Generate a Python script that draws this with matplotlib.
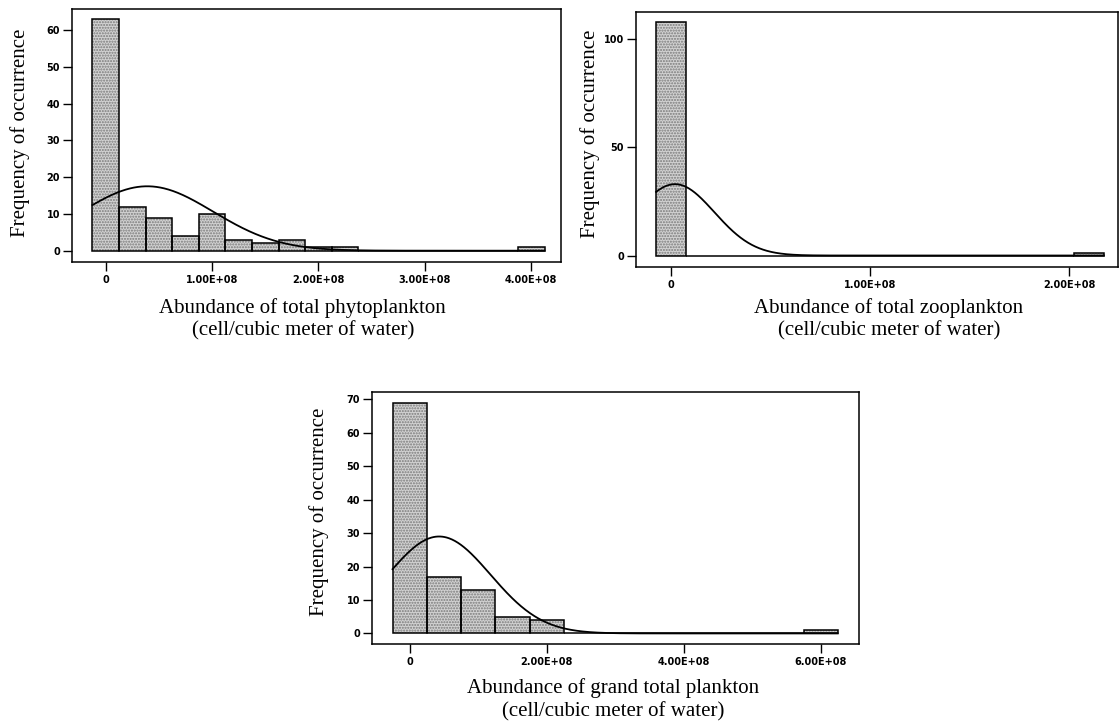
import numpy as np
import matplotlib
matplotlib.use("Agg")
import matplotlib.pyplot as plt

# bin centres are in units of 1e6 cells / m^3
phyto_centers = [0, 25, 50, 75, 100, 125, 150, 175, 200, 225, 250, 275, 300, 325, 350, 375, 400]
phyto_counts = [63, 12, 9, 4, 10, 3, 2, 3, 1, 1, 0, 0, 0, 0, 0, 0, 1]
phyto_width = 25
phyto_mean, phyto_sd = 39, 62

zoo_centers = [0, 15, 30, 45, 60, 75, 90, 105, 120, 135, 150, 165, 180, 195, 210]
zoo_counts = [108, 0, 0, 0, 0, 0, 0, 0, 0, 0, 0, 0, 0, 0, 1]
zoo_width = 15
zoo_mean, zoo_sd = 2, 19.8

total_centers = [0, 50, 100, 150, 200, 250, 300, 350, 400, 450, 500, 550, 600]
total_counts = [69, 17, 13, 5, 4, 0, 0, 0, 0, 0, 0, 0, 1]
total_width = 50
total_mean, total_sd = 43, 75

phyto_xticks = [0, 100, 200, 300, 400]
phyto_xlabels = ["0", "1.00E+08", "2.00E+08", "3.00E+08", "4.00E+08"]
zoo_xticks = [0, 100, 200]
zoo_xlabels = ["0", "1.00E+08", "2.00E+08"]
total_xticks = [0, 200, 400, 600]
total_xlabels = ["0", "2.00E+08", "4.00E+08", "6.00E+08"]

W, H = 1120, 725
SERIF = "Liberation Serif"


def draw_hist(rect, centers, counts, width, mean, sd, xlim, ylim, xticks, xlabels, yticks):
    ax = fig.add_axes(rect)
    # stippled fill first, then black outlines on top
    ax.bar(centers, counts, width=width, color="#d2d2d2", hatch="......",
           edgecolor="#7a7a7a", linewidth=0, zorder=2)
    ax.bar(centers, counts, width=width, fill=False, edgecolor="black",
           linewidth=1.1, zorder=3)

    n = sum(counts)
    x = np.linspace(centers[0] - width / 2, centers[-1] + width / 2, 600)
    y = n * width * np.exp(-0.5 * ((x - mean) / sd) ** 2) / (sd * np.sqrt(2 * np.pi))
    ax.plot(x, y, color="black", linewidth=1.3, zorder=4)

    ax.set_xlim(*xlim)
    ax.set_ylim(*ylim)
    ax.set_xticks(xticks)
    ax.set_xticklabels(xlabels)
    ax.set_yticks(yticks)
    ax.tick_params(direction="out", length=6.5, width=1.0, labelsize=7, pad=2)
    ax.tick_params(axis="x", pad=3)
    for t in ax.get_xticklabels() + ax.get_yticklabels():
        t.set_fontweight("bold")
    for s in ax.spines.values():
        s.set_linewidth(1.1)
    return ax


def px_rect(left, top, right, bottom):
    return [left / W, 1 - bottom / H, (right - left) / W, (bottom - top) / H]


fig = plt.figure(figsize=(W / 100, H / 100), dpi=100)
plt.rcParams["font.family"] = "DejaVu Sans"

draw_hist(px_rect(72, 9, 561, 262), phyto_centers, phyto_counts, phyto_width,
          phyto_mean, phyto_sd, (-31.7, 428), (-3.08, 65.8),
          phyto_xticks, phyto_xlabels, [0, 10, 20, 30, 40, 50, 60])
draw_hist(px_rect(636, 12, 1118, 267), zoo_centers, zoo_counts, zoo_width,
          zoo_mean, zoo_sd, (-17.6, 224.6), (-5.3, 112.4),
          zoo_xticks, zoo_xlabels, [0, 50, 100])
draw_hist(px_rect(372, 392, 859, 644), total_centers, total_counts, total_width,
          total_mean, total_sd, (-55, 656), (-3.16, 72.2),
          total_xticks, total_xlabels, [0, 10, 20, 30, 40, 50, 60, 70])


def label(x, y, text, rot=0):
    fig.text(x / W, 1 - y / H, text, family=SERIF, fontsize=15,
             ha="center", va="center", rotation=rot)


label(302, 308, "Abundance of total phytoplankton")
label(303, 331, "(cell/cubic meter of water)")
label(889, 308, "Abundance of total zooplankton")
label(889, 331, "(cell/cubic meter of water)")
label(613, 688, "Abundance of grand total plankton")
label(613, 712, "(cell/cubic meter of water)")

label(20, 133, "Frequency of occurrence", rot=90)
label(590, 134, "Frequency of occurrence", rot=90)
label(319, 512, "Frequency of occurrence", rot=90)

fig.savefig("out.png", dpi=100)
